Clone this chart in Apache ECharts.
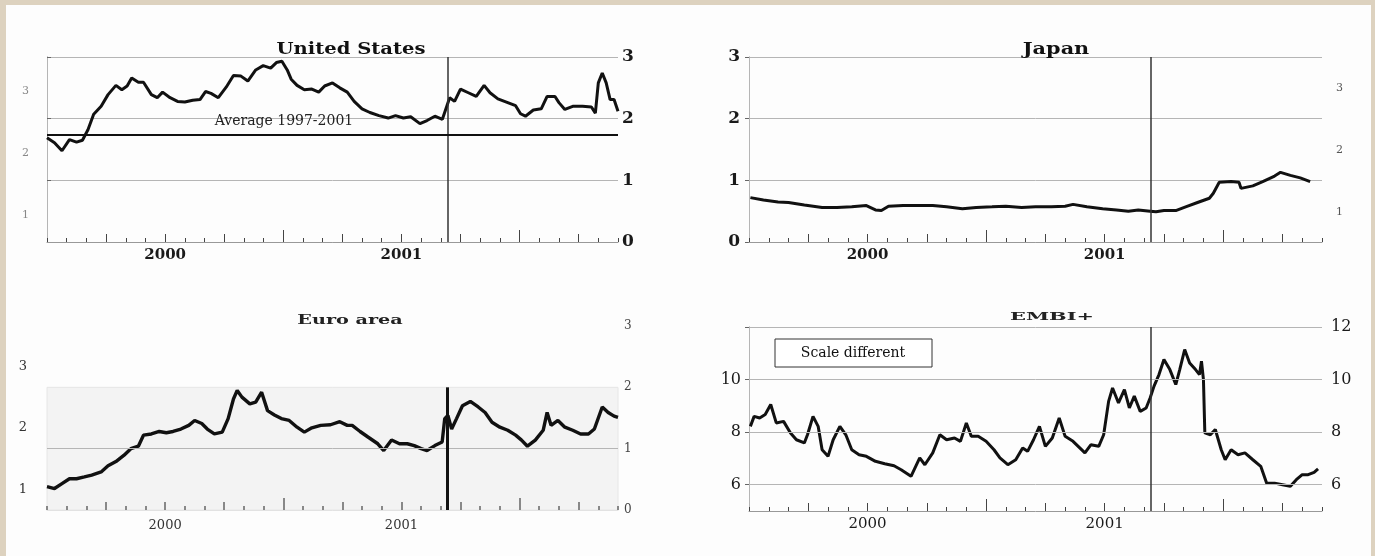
<!DOCTYPE html>
<html><head><meta charset="utf-8">
<script src="https://cdn.jsdelivr.net/npm/echarts@6/dist/echarts.min.js"></script>
<style>
html,body{margin:0;padding:0;background:#ddd2bf;overflow:hidden;}
#paper{position:absolute;left:6px;top:5px;width:1365px;height:551px;background:#fdfdfd;}
#chart{position:absolute;left:0;top:0;width:1375px;height:556px;}
</style></head><body>
<div id="paper"></div><div id="chart"></div>
<script>
// ---- axis / tick data ----
const xMin = 0, xMax = 29;               // months since Jan 2000
const yearLabelText = ['2000', '2001'];
const yearLabelPos = [6, 18];
const quarterTicks = [3, 6, 9, 15, 18, 21, 27];
const yearTicks = [12, 24];
const eventMonth = 20.35;                // 11 September 2001

// ---- United States ----
const usX = [0,0.38,0.76,1.14,1.5,1.8,2.08,2.37,2.75,3.1,3.5,3.8,4.07,4.3,4.64,4.9,5.3,5.6,5.87,6.25,6.63,7.0,7.4,7.77,8.05,8.33,8.7,9.1,9.47,9.85,10.2,10.6,10.98,11.36,11.65,11.93,12.2,12.4,12.7,13.07,13.45,13.8,14.1,14.5,14.87,15.25,15.6,16.0,16.4,16.86,17.33,17.7,18.1,18.47,18.94,19.3,19.7,20.08,20.27,20.45,20.7,21.0,21.4,21.8,22.2,22.5,22.9,23.4,23.8,24.05,24.3,24.7,25.1,25.4,25.8,26.0,26.3,26.7,27.2,27.65,27.85,28.0,28.2,28.4,28.6,28.8,29.0];
const usY = [1.69,1.61,1.48,1.66,1.62,1.65,1.82,2.07,2.20,2.39,2.54,2.47,2.53,2.66,2.59,2.59,2.39,2.34,2.43,2.34,2.28,2.27,2.30,2.31,2.44,2.41,2.34,2.51,2.70,2.69,2.61,2.79,2.86,2.82,2.91,2.93,2.79,2.64,2.54,2.47,2.48,2.43,2.53,2.58,2.50,2.43,2.28,2.16,2.10,2.05,2.01,2.05,2.01,2.03,1.92,1.97,2.04,1.99,2.17,2.34,2.28,2.48,2.42,2.36,2.54,2.42,2.32,2.26,2.21,2.08,2.04,2.14,2.16,2.36,2.36,2.26,2.15,2.20,2.20,2.19,2.09,2.58,2.74,2.58,2.31,2.31,2.12];
const usAverage = 1.735;
const usRightRange = [0, 3];
const usLeftRange = [0.56, 3.56];
const usLeftLabels = [1, 2, 3];

// ---- Japan ----
const jpX = [0.07,0.73,1.47,2.0,2.8,3.7,4.45,5.2,5.94,6.4,6.7,7.06,7.8,8.55,9.3,10.0,10.8,11.5,12.3,13.0,13.8,14.5,15.3,16.0,16.4,17.1,17.9,18.6,19.2,19.7,20.3,20.6,21.0,21.6,22.1,22.7,23.3,23.5,23.8,24.4,24.8,24.9,25.5,26.0,26.6,26.9,27.4,27.9,28.4];
const jpY = [0.72,0.68,0.65,0.64,0.60,0.56,0.56,0.57,0.59,0.52,0.51,0.58,0.59,0.59,0.59,0.57,0.54,0.56,0.57,0.58,0.56,0.57,0.57,0.58,0.61,0.57,0.54,0.52,0.50,0.52,0.50,0.49,0.51,0.51,0.57,0.64,0.71,0.79,0.97,0.98,0.97,0.87,0.91,0.98,1.07,1.13,1.08,1.04,0.98];
const jpLeftRange = [0, 3];
const jpRightRange = [0.51, 3.51];
const jpRightLabels = [1, 2, 3];

// ---- Euro area ----
const euX = [0,0.38,0.76,1.14,1.5,1.9,2.27,2.75,3.1,3.5,3.9,4.26,4.64,4.9,5.3,5.7,6.06,6.4,6.8,7.2,7.5,7.86,8.14,8.5,8.9,9.2,9.47,9.66,9.9,10.3,10.6,10.9,11.2,11.55,11.9,12.3,12.7,13.07,13.45,13.9,14.4,14.87,15.25,15.5,15.9,16.3,16.8,17.1,17.5,17.9,18.3,18.65,19.0,19.3,19.7,20.07,20.2,20.36,20.55,20.8,21.1,21.5,21.9,22.25,22.6,23.0,23.4,23.8,24.1,24.4,24.8,25.2,25.4,25.6,25.95,26.3,26.7,27.1,27.5,27.8,28.2,28.5,28.8,29.0];
const euY = [0.38,0.35,0.43,0.51,0.51,0.54,0.57,0.62,0.72,0.79,0.89,1.00,1.04,1.22,1.24,1.28,1.26,1.28,1.32,1.38,1.46,1.41,1.32,1.24,1.27,1.49,1.81,1.95,1.84,1.73,1.76,1.92,1.62,1.55,1.49,1.46,1.35,1.27,1.34,1.38,1.39,1.44,1.38,1.38,1.28,1.19,1.08,0.97,1.14,1.08,1.08,1.05,1.00,0.97,1.05,1.11,1.49,1.54,1.32,1.49,1.70,1.77,1.68,1.59,1.43,1.35,1.30,1.22,1.14,1.04,1.14,1.30,1.59,1.38,1.46,1.35,1.30,1.24,1.24,1.32,1.68,1.59,1.53,1.51];
const euRightRange = [0, 3];
const euLeftRange = [0.66, 3.66];
const euLeftLabels = [1, 2, 3];
const euGridValues = [1];
const euShadeTop = 2;

// ---- EMBI+ ----
const emX = [0.07,0.26,0.54,0.82,1.1,1.38,1.75,2.1,2.4,2.8,2.96,3.24,3.5,3.7,4.0,4.26,4.6,4.9,5.2,5.57,5.94,6.4,6.87,7.34,7.7,8.2,8.64,8.9,9.3,9.66,10.0,10.4,10.7,11.0,11.25,11.6,12.0,12.4,12.7,13.1,13.5,13.85,14.1,14.4,14.7,15.0,15.35,15.7,16.0,16.4,16.74,17.0,17.3,17.7,17.95,18.2,18.4,18.7,19.0,19.25,19.5,19.8,20.1,20.3,20.5,20.75,21.0,21.3,21.6,21.8,22.05,22.3,22.6,22.8,22.9,23.0,23.07,23.35,23.6,23.9,24.1,24.4,24.75,25.1,25.5,25.9,26.2,26.6,27.0,27.4,27.7,28.0,28.3,28.6,28.8];
const emY = [8.22,8.60,8.54,8.67,9.05,8.35,8.41,7.97,7.71,7.59,7.90,8.60,8.22,7.33,7.08,7.71,8.22,7.90,7.33,7.14,7.08,6.89,6.80,6.72,6.57,6.32,7.02,6.76,7.21,7.90,7.71,7.78,7.65,8.35,7.84,7.84,7.65,7.33,7.02,6.76,6.95,7.40,7.27,7.71,8.22,7.46,7.78,8.54,7.84,7.65,7.40,7.21,7.52,7.46,7.90,9.17,9.68,9.11,9.62,8.92,9.37,8.79,8.92,9.30,9.75,10.19,10.76,10.38,9.81,10.38,11.14,10.63,10.38,10.19,10.70,10.00,7.97,7.90,8.10,7.33,6.95,7.33,7.14,7.21,6.95,6.70,6.06,6.06,6.00,5.94,6.19,6.38,6.38,6.47,6.60];
const emRange = [5, 12];
const emLeftLabels = [6, 8, 10];
const emRightLabels = [6, 8, 10, 12];
const emGridValues = [6, 8, 10, 12];

// ---- build ----
const SERIF = 'DejaVu Serif';
const GRID_C = '#b5b5b5';
const zip = (xs, ys) => xs.map((x, i) => [x, ys[i]]);

const grids = [
  {left: 47, top: 57, width: 571, height: 185},
  {left: 749, top: 57, width: 573, height: 185},
  {left: 47, top: 326, width: 571, height: 184},
  {left: 749, top: 327, width: 573, height: 184}
].map(g => Object.assign({containLabel: false, show: false}, g));

function xAxes(g, s) {
  const base = {gridIndex: g, type: 'value', position: 'bottom', min: xMin, max: xMax, z: 5, splitLine: {show: false}};
  return [
    Object.assign({}, base, {
      interval: 1,
      axisLine: {show: true, lineStyle: {color: s.lineColor, width: 1}},
      axisTick: {show: true, inside: true, length: 4, lineStyle: {color: s.tickColor, width: s.tickWidth}},
      axisLabel: {show: true, margin: s.margin, color: s.labelColor, fontFamily: SERIF, fontSize: s.fontSize, fontWeight: s.fontWeight,
        formatter: v => { const i = yearLabelPos.indexOf(v); return i >= 0 ? yearLabelText[i] : ''; }}
    }),
    Object.assign({}, base, {
      axisLine: {show: false}, axisLabel: {show: false},
      axisTick: {show: true, inside: true, length: 8, customValues: quarterTicks, lineStyle: {color: s.tickColor, width: s.tickWidth}}
    }),
    Object.assign({}, base, {
      axisLine: {show: false}, axisLabel: {show: false},
      axisTick: {show: true, inside: true, length: 12, customValues: yearTicks, lineStyle: {color: s.tickColor, width: s.tickWidth}}
    })
  ];
}

const xAxis = [].concat(
  xAxes(0, {lineColor: '#999', tickColor: '#444', tickWidth: 1, margin: 6, labelColor: '#1a1a1a', fontSize: 15, fontWeight: 'bold'}),
  xAxes(1, {lineColor: '#999', tickColor: '#444', tickWidth: 1, margin: 6, labelColor: '#1a1a1a', fontSize: 15, fontWeight: 'bold'}),
  xAxes(2, {lineColor: '#e2e2e2', tickColor: '#666', tickWidth: 1.5, margin: 9, labelColor: '#333', fontSize: 13, fontWeight: 'normal'}),
  xAxes(3, {lineColor: '#999', tickColor: '#444', tickWidth: 1, margin: 6, labelColor: '#1a1a1a', fontSize: 15, fontWeight: 'normal'})
);

const hideLine = {show: false};
const yAxis = [
  // US left (labels only)
  {gridIndex: 0, type: 'value', position: 'left', min: usLeftRange[0], max: usLeftRange[1],
   axisLine: {show: true, lineStyle: {color: GRID_C}}, axisTick: {show: false}, splitLine: {show: false},
   axisLabel: {customValues: usLeftLabels, margin: 18, color: '#888', fontFamily: SERIF, fontSize: 11}},
  // US right
  {gridIndex: 0, type: 'value', position: 'right', min: usRightRange[0], max: usRightRange[1], interval: 1,
   axisLine: {show: true, lineStyle: {color: GRID_C}}, axisTick: {show: true, length: 4, lineStyle: {color: '#666'}},
   splitLine: {show: true, lineStyle: {color: GRID_C, width: 1}},
   axisLabel: {margin: 4, color: '#1a1a1a', fontFamily: SERIF, fontSize: 17, fontWeight: 'bold'}},
  // Japan left
  {gridIndex: 1, type: 'value', position: 'left', min: jpLeftRange[0], max: jpLeftRange[1], interval: 1,
   axisLine: {show: true, lineStyle: {color: GRID_C}}, axisTick: {show: true, length: 4, lineStyle: {color: '#666'}},
   splitLine: {show: true, lineStyle: {color: GRID_C, width: 1}},
   axisLabel: {margin: 9, color: '#1a1a1a', fontFamily: SERIF, fontSize: 17, fontWeight: 'bold'}},
  // Japan right (labels only)
  {gridIndex: 1, type: 'value', position: 'right', min: jpRightRange[0], max: jpRightRange[1],
   axisLine: {show: true, lineStyle: {color: GRID_C}}, axisTick: {show: false}, splitLine: {show: false},
   axisLabel: {customValues: jpRightLabels, margin: 14, color: '#555', fontFamily: SERIF, fontSize: 11}},
  // Euro left (labels only)
  {gridIndex: 2, type: 'value', position: 'left', min: euLeftRange[0], max: euLeftRange[1],
   axisLine: hideLine, axisTick: {show: false}, splitLine: {show: false},
   axisLabel: {customValues: euLeftLabels, margin: 20, color: '#333', fontFamily: SERIF, fontSize: 13}},
  // Euro right
  {gridIndex: 2, type: 'value', position: 'right', min: euRightRange[0], max: euRightRange[1], interval: 1,
   axisLine: hideLine, axisTick: {show: false}, splitLine: {show: false},
   axisLabel: {margin: 6, color: '#444', fontFamily: SERIF, fontSize: 12}},
  // EMBI left
  {gridIndex: 3, type: 'value', position: 'left', min: emRange[0], max: emRange[1],
   axisLine: {show: true, lineStyle: {color: GRID_C}},
   axisTick: {show: true, length: 4, customValues: emRightLabels, lineStyle: {color: '#666'}}, splitLine: {show: false},
   axisLabel: {customValues: emLeftLabels, margin: 8, color: '#1a1a1a', fontFamily: SERIF, fontSize: 16}},
  // EMBI right
  {gridIndex: 3, type: 'value', position: 'right', min: emRange[0], max: emRange[1],
   axisLine: {show: true, lineStyle: {color: GRID_C}},
   axisTick: {show: true, length: 4, customValues: emRightLabels, lineStyle: {color: '#666'}}, splitLine: {show: false},
   axisLabel: {customValues: emRightLabels, margin: 9, color: '#1a1a1a', fontFamily: SERIF, fontSize: 16}}
];

const lineStyleMain = {color: '#111', width: 3};
const mlBase = {silent: true, symbol: ['none', 'none'], label: {show: false}, animation: false};
const eventLine = {xAxis: eventMonth, lineStyle: {color: '#333', width: 1.5, type: 'solid'}};

const series = [
  {type: 'line', xAxisIndex: 0, yAxisIndex: 1, data: zip(usX, usY), showSymbol: false, lineStyle: lineStyleMain, z: 3,
   markLine: Object.assign({}, mlBase, {data: [
     eventLine,
     {yAxis: usAverage, lineStyle: {color: '#111', width: 2, type: 'solid'}}
   ]})},
  {type: 'line', xAxisIndex: 3, yAxisIndex: 2, data: zip(jpX, jpY), showSymbol: false, lineStyle: lineStyleMain, z: 3,
   markLine: Object.assign({}, mlBase, {data: [eventLine]})},
  {type: 'line', xAxisIndex: 6, yAxisIndex: 5, data: zip(euX, euY), showSymbol: false, lineStyle: {color: '#111', width: 3.4}, z: 3,
   markArea: {silent: true, itemStyle: {color: '#f3f3f3', borderColor: '#e6e6e6', borderWidth: 1},
     data: [[{coord: [xMin, 0]}, {coord: [xMax, euShadeTop]}]]},
   markLine: Object.assign({}, mlBase, {data: [
     ...euGridValues.map(v => ({yAxis: v, lineStyle: {color: GRID_C, width: 1, type: 'solid'}})),
     [{coord: [eventMonth, 0], lineStyle: {color: '#111', width: 3, type: 'solid'}}, {coord: [eventMonth, euShadeTop]}]
   ]})},
  {type: 'line', xAxisIndex: 9, yAxisIndex: 7, data: zip(emX, emY), showSymbol: false, lineStyle: lineStyleMain, z: 3,
   markLine: Object.assign({}, mlBase, {data: [
     ...emGridValues.map(v => ({yAxis: v, lineStyle: {color: GRID_C, width: 1, type: 'solid'}})),
     eventLine
   ]})}
];

function label(text, x, y, size, weight, sx, color) {
  return {type: 'text', x: x, y: y, scaleX: sx || 1, z: 10,
    style: {text: text, x: 0, y: 0, fill: color || '#111', fontFamily: SERIF, fontSize: size, fontWeight: weight || 'normal',
      align: 'center', verticalAlign: 'middle', textAlign: 'center', textVerticalAlign: 'middle'}};
}

const graphic = [
  label('United States', 351, 50, 17, 'bold', 1.15),
  label('Japan', 1056, 50, 16, 'bold', 1.3),
  label('Euro area', 350, 321, 12, 'bold', 1.6, '#222'),
  label('EMBI+', 1052, 317, 11, 'bold', 1.9, '#222'),
  label('Average 1997-2001', 284, 121, 14, 'normal', 1.0, '#222'),
  {type: 'rect', z: 9, shape: {x: 775, y: 339, width: 157, height: 28},
   style: {fill: '#ffffff', stroke: '#333', lineWidth: 1}},
  label('Scale different', 853, 353, 14, 'normal', 1.0, '#111')
];

const chart = echarts.init(document.getElementById('chart'), null, {renderer: 'canvas'});
chart.setOption({
  animation: false,
  backgroundColor: 'transparent',
  grid: grids,
  xAxis: xAxis,
  yAxis: yAxis,
  series: series,
  graphic: graphic
});
</script>
</body></html>
